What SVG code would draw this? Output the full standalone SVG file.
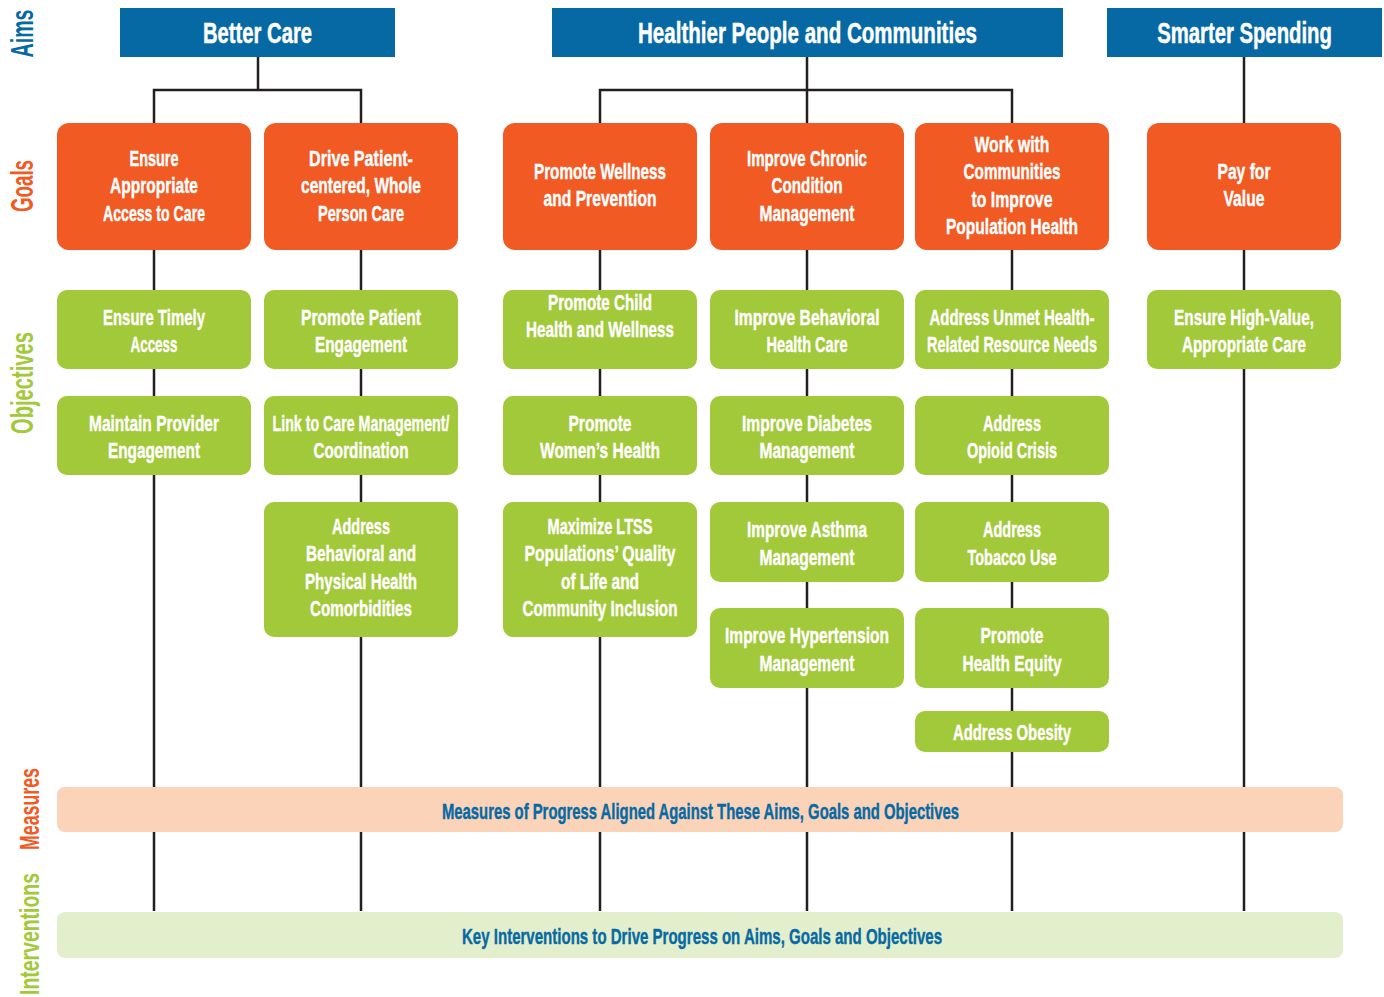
<svg xmlns="http://www.w3.org/2000/svg" width="1384" height="997" viewBox="0 0 1384 997">
<style>
text{font-family:"Liberation Sans",Arial,sans-serif;font-weight:bold;text-anchor:middle}
.aim{fill:#0769A3}
.goal{fill:#F15A22}
.obj{fill:#A2C93A}
.t{fill:#fff;stroke:#fff;stroke-width:0.4;font-size:22px}
.ta{fill:#fff;stroke:#fff;stroke-width:0.5;font-size:29px}
.tb{fill:#0769A3;stroke:#0769A3;stroke-width:0.4;font-size:22px}
.side{font-size:31px}
.side2{font-size:28px}
.conn{stroke:#231F20;stroke-width:2.5;fill:none}
</style>
<rect width="1384" height="997" fill="#fff"/>
<g id="side-labels">
<text class="side" transform="translate(33,33.5) rotate(-90) scale(0.633,1)" fill="#0769A3">Aims</text>
<text class="side" transform="translate(33,186) rotate(-90)" fill="#F15A22" textLength="52" lengthAdjust="spacingAndGlyphs">Goals</text>
<text class="side" transform="translate(33,383) rotate(-90)" fill="#A2C93A" textLength="102" lengthAdjust="spacingAndGlyphs">Objectives</text>
<text class="side2" transform="translate(39,809) rotate(-90)" fill="#F15A22" textLength="82" lengthAdjust="spacingAndGlyphs">Measures</text>
<text class="side2" transform="translate(39,934) rotate(-90)" fill="#A2C93A" textLength="122" lengthAdjust="spacingAndGlyphs">Interventions</text>
</g>
<g id="connectors" class="conn">
<path d="M258 57V90M154 123V90H361V123"/>
<path d="M807 57V123M600 123V90H1012V123"/>
<path d="M1244 57V123"/>
<path d="M154 250V911M361 250V911M600 250V911M807 250V911M1012 250V911M1244 250V911"/>
</g>
<g id="aim-better-care"><rect class="aim" x="120" y="8" width="275" height="49"/><text class="ta" x="257.5" y="43" textLength="109" lengthAdjust="spacingAndGlyphs">Better Care</text></g>
<g id="aim-healthier"><rect class="aim" x="552" y="8" width="511" height="49"/><text class="ta" x="807.5" y="43" textLength="339" lengthAdjust="spacingAndGlyphs">Healthier People and Communities</text></g>
<g id="aim-smarter"><rect class="aim" x="1107" y="8" width="275" height="49"/><text class="ta" transform="translate(1244.5,43) scale(0.70,1)">Smarter Spending</text></g>

<g id="goal-access"><rect class="goal" x="57" y="123" width="194" height="127" rx="12"/>
<text class="t" x="154" y="166" textLength="49" lengthAdjust="spacingAndGlyphs">Ensure</text>
<text class="t" x="154" y="193" textLength="88" lengthAdjust="spacingAndGlyphs">Appropriate</text>
<text class="t" x="154" y="221" textLength="102" lengthAdjust="spacingAndGlyphs">Access to Care</text></g>
<g id="goal-patient"><rect class="goal" x="264" y="123" width="194" height="127" rx="12"/>
<text class="t" x="361" y="166" textLength="104" lengthAdjust="spacingAndGlyphs">Drive Patient-</text>
<text class="t" x="361" y="193" textLength="120" lengthAdjust="spacingAndGlyphs">centered, Whole</text>
<text class="t" x="361" y="221" textLength="86" lengthAdjust="spacingAndGlyphs">Person Care</text></g>
<g id="goal-wellness"><rect class="goal" x="503" y="123" width="194" height="127" rx="12"/>
<text class="t" x="600" y="179" textLength="132" lengthAdjust="spacingAndGlyphs">Promote Wellness</text>
<text class="t" x="600" y="206" textLength="113" lengthAdjust="spacingAndGlyphs">and Prevention</text></g>
<g id="goal-chronic"><rect class="goal" x="710" y="123" width="194" height="127" rx="12"/>
<text class="t" x="807" y="166" textLength="120" lengthAdjust="spacingAndGlyphs">Improve Chronic</text>
<text class="t" x="807" y="193" textLength="71" lengthAdjust="spacingAndGlyphs">Condition</text>
<text class="t" x="807" y="221" textLength="95" lengthAdjust="spacingAndGlyphs">Management</text></g>
<g id="goal-communities"><rect class="goal" x="915" y="123" width="194" height="127" rx="12"/>
<text class="t" x="1012" y="152" textLength="75" lengthAdjust="spacingAndGlyphs">Work with</text>
<text class="t" x="1012" y="179" textLength="97" lengthAdjust="spacingAndGlyphs">Communities</text>
<text class="t" x="1012" y="207" textLength="81" lengthAdjust="spacingAndGlyphs">to Improve</text>
<text class="t" x="1012" y="234" textLength="132" lengthAdjust="spacingAndGlyphs">Population Health</text></g>
<g id="goal-value"><rect class="goal" x="1147" y="123" width="194" height="127" rx="12"/>
<text class="t" x="1244" y="179" textLength="53" lengthAdjust="spacingAndGlyphs">Pay for</text>
<text class="t" x="1244" y="206" textLength="41" lengthAdjust="spacingAndGlyphs">Value</text></g>

<g id="obj-timely"><rect class="obj" x="57" y="290" width="194" height="79" rx="10"/>
<text class="t" x="154" y="325" textLength="102" lengthAdjust="spacingAndGlyphs">Ensure Timely</text>
<text class="t" x="154" y="352" textLength="47" lengthAdjust="spacingAndGlyphs">Access</text></g>
<g id="obj-provider"><rect class="obj" x="57" y="396" width="194" height="79" rx="10"/>
<text class="t" x="154" y="431" textLength="130" lengthAdjust="spacingAndGlyphs">Maintain Provider</text>
<text class="t" x="154" y="458" textLength="92" lengthAdjust="spacingAndGlyphs">Engagement</text></g>
<g id="obj-patient-engagement"><rect class="obj" x="264" y="290" width="194" height="79" rx="10"/>
<text class="t" x="361" y="325" textLength="120" lengthAdjust="spacingAndGlyphs">Promote Patient</text>
<text class="t" x="361" y="352" textLength="92" lengthAdjust="spacingAndGlyphs">Engagement</text></g>
<g id="obj-care-mgmt"><rect class="obj" x="264" y="396" width="194" height="79" rx="10"/>
<text class="t" x="361" y="431" textLength="177" lengthAdjust="spacingAndGlyphs">Link to Care Management/</text>
<text class="t" x="361" y="458" textLength="95" lengthAdjust="spacingAndGlyphs">Coordination</text></g>
<g id="obj-comorbid"><rect class="obj" x="264" y="502" width="194" height="135" rx="10"/>
<text class="t" x="361" y="534" textLength="58" lengthAdjust="spacingAndGlyphs">Address</text>
<text class="t" x="361" y="561" textLength="110" lengthAdjust="spacingAndGlyphs">Behavioral and</text>
<text class="t" x="361" y="589" textLength="112" lengthAdjust="spacingAndGlyphs">Physical Health</text>
<text class="t" x="361" y="616" textLength="102" lengthAdjust="spacingAndGlyphs">Comorbidities</text></g>

<g id="obj-child"><rect class="obj" x="503" y="290" width="194" height="79" rx="10"/>
<text class="t" x="600" y="310" textLength="104" lengthAdjust="spacingAndGlyphs">Promote Child</text>
<text class="t" x="600" y="337" textLength="148" lengthAdjust="spacingAndGlyphs">Health and Wellness</text></g>
<g id="obj-women"><rect class="obj" x="503" y="396" width="194" height="79" rx="10"/>
<text class="t" x="600" y="431" textLength="63" lengthAdjust="spacingAndGlyphs">Promote</text>
<text class="t" x="600" y="458" textLength="120" lengthAdjust="spacingAndGlyphs">Women’s Health</text></g>
<g id="obj-ltss"><rect class="obj" x="503" y="502" width="194" height="135" rx="10"/>
<text class="t" x="600" y="534" textLength="105" lengthAdjust="spacingAndGlyphs">Maximize LTSS</text>
<text class="t" x="600" y="561" textLength="151" lengthAdjust="spacingAndGlyphs">Populations’ Quality</text>
<text class="t" x="600" y="589" textLength="78" lengthAdjust="spacingAndGlyphs">of Life and</text>
<text class="t" x="600" y="616" textLength="155" lengthAdjust="spacingAndGlyphs">Community Inclusion</text></g>

<g id="obj-behavioral"><rect class="obj" x="710" y="290" width="194" height="79" rx="10"/>
<text class="t" x="807" y="325" textLength="145" lengthAdjust="spacingAndGlyphs">Improve Behavioral</text>
<text class="t" x="807" y="352" textLength="81" lengthAdjust="spacingAndGlyphs">Health Care</text></g>
<g id="obj-diabetes"><rect class="obj" x="710" y="396" width="194" height="79" rx="10"/>
<text class="t" x="807" y="431" textLength="130" lengthAdjust="spacingAndGlyphs">Improve Diabetes</text>
<text class="t" x="807" y="458" textLength="95" lengthAdjust="spacingAndGlyphs">Management</text></g>
<g id="obj-asthma"><rect class="obj" x="710" y="502" width="194" height="80" rx="10"/>
<text class="t" x="807" y="537" textLength="120" lengthAdjust="spacingAndGlyphs">Improve Asthma</text>
<text class="t" x="807" y="565" textLength="95" lengthAdjust="spacingAndGlyphs">Management</text></g>
<g id="obj-hypertension"><rect class="obj" x="710" y="608" width="194" height="80" rx="10"/>
<text class="t" x="807" y="643" textLength="164" lengthAdjust="spacingAndGlyphs">Improve Hypertension</text>
<text class="t" x="807" y="671" textLength="95" lengthAdjust="spacingAndGlyphs">Management</text></g>

<g id="obj-unmet"><rect class="obj" x="915" y="290" width="194" height="79" rx="10"/>
<text class="t" x="1012" y="325" textLength="165" lengthAdjust="spacingAndGlyphs">Address Unmet Health-</text>
<text class="t" x="1012" y="352" textLength="170" lengthAdjust="spacingAndGlyphs">Related Resource Needs</text></g>
<g id="obj-opioid"><rect class="obj" x="915" y="396" width="194" height="79" rx="10"/>
<text class="t" x="1012" y="431" textLength="58" lengthAdjust="spacingAndGlyphs">Address</text>
<text class="t" x="1012" y="458" textLength="90" lengthAdjust="spacingAndGlyphs">Opioid Crisis</text></g>
<g id="obj-tobacco"><rect class="obj" x="915" y="502" width="194" height="80" rx="10"/>
<text class="t" x="1012" y="537" textLength="58" lengthAdjust="spacingAndGlyphs">Address</text>
<text class="t" x="1012" y="565" textLength="89" lengthAdjust="spacingAndGlyphs">Tobacco Use</text></g>
<g id="obj-equity"><rect class="obj" x="915" y="608" width="194" height="80" rx="10"/>
<text class="t" x="1012" y="643" textLength="63" lengthAdjust="spacingAndGlyphs">Promote</text>
<text class="t" x="1012" y="671" textLength="99" lengthAdjust="spacingAndGlyphs">Health Equity</text></g>
<g id="obj-obesity"><rect class="obj" x="915" y="711" width="194" height="41" rx="10"/>
<text class="t" x="1012" y="740" textLength="118" lengthAdjust="spacingAndGlyphs">Address Obesity</text></g>

<g id="obj-high-value"><rect class="obj" x="1147" y="290" width="194" height="79" rx="10"/>
<text class="t" x="1244" y="325" textLength="140" lengthAdjust="spacingAndGlyphs">Ensure High-Value,</text>
<text class="t" x="1244" y="352" textLength="124" lengthAdjust="spacingAndGlyphs">Appropriate Care</text></g>

<g id="measures"><rect x="57" y="787" width="1286" height="45" rx="8" fill="#FBD3B9"/>
<text class="tb" x="700.5" y="819" textLength="517" lengthAdjust="spacingAndGlyphs">Measures of Progress Aligned Against These Aims, Goals and Objectives</text></g>
<g id="interventions"><rect x="57" y="912" width="1286" height="46" rx="8" fill="#E3EFCC"/>
<text class="tb" x="702" y="944" textLength="480" lengthAdjust="spacingAndGlyphs">Key Interventions to Drive Progress on Aims, Goals and Objectives</text></g>
</svg>
